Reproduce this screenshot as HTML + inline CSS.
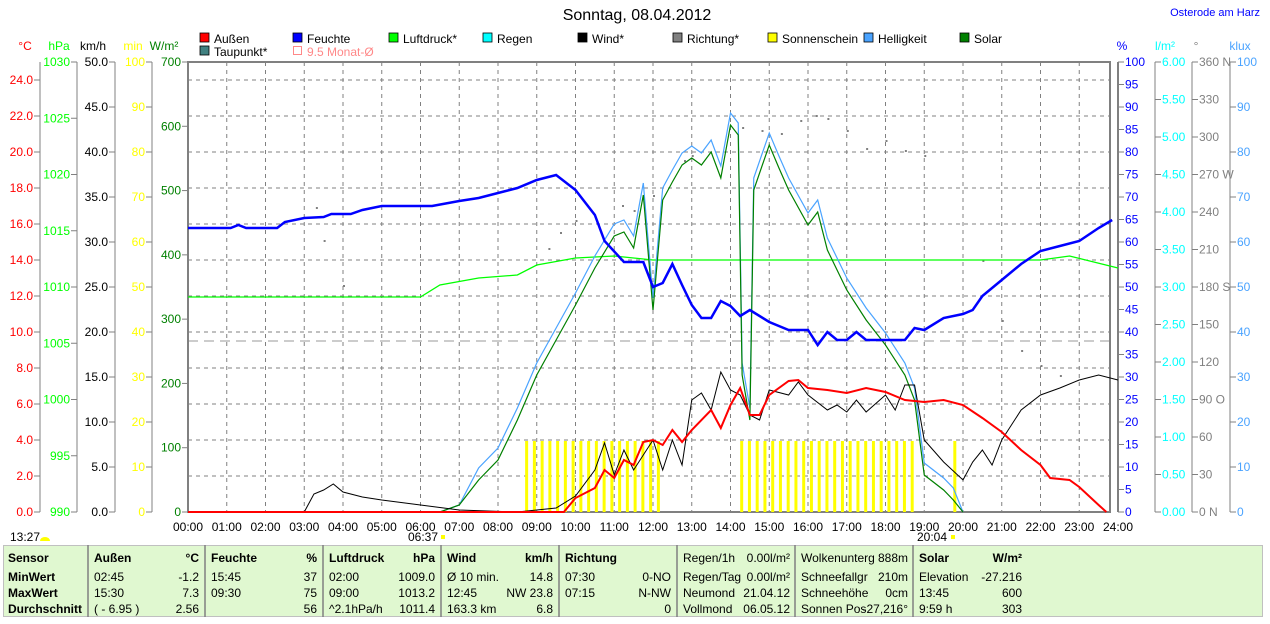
<!DOCTYPE html>
<html><head><meta charset="utf-8"><style>
body{margin:0;background:#fff;width:1270px;height:619px;overflow:hidden;font-family:"Liberation Sans",sans-serif}
svg text{font-family:"Liberation Sans",sans-serif;font-size:12px}
</style></head><body>
<svg id="s" width="1270" height="619" xmlns="http://www.w3.org/2000/svg"></svg>
<script>
const s=document.getElementById('s');let h='';
const X=t=>188+t*38.75;
function T(x,y,t,c,a,extra){h+=`<text x="${x}" y="${y}" fill="${c||'#000'}" text-anchor="${a||'start'}" ${extra||''}>${t}</text>`;}
function L(x1,y1,x2,y2,c,w,d){h+=`<line x1="${x1}" y1="${y1}" x2="${x2}" y2="${y2}" stroke="${c}" stroke-width="${w||1}" ${d?`stroke-dasharray="${d}"`:''}/>`;}
T(637,20,'Sonntag, 08.04.2012','#000','middle','style="font-size:16px"');
T(1260,16,'Osterode am Harz','#0000ff','end','style="font-size:11px"');
const lg=[[200,42,'#f00','Außen'],[293,42,'#00f','Feuchte'],[389,42,'#0f0','Luftdruck*'],[483,42,'#0ff','Regen'],[578,42,'#000','Wind*'],[673,42,'#808080','Richtung*'],[768,42,'#ff0','Sonnenschein'],[864,42,'#4aa3ff','Helligkeit'],[960,42,'#008000','Solar'],[200,55,'#408080','Taupunkt*']];
lg.forEach(l=>{h+=`<rect x="${l[0]}" y="${l[1]-9}" width="9" height="9" fill="${l[2]}" stroke="#000" stroke-width="0.8"/>`;T(l[0]+14,l[1]+1,l[3]);});
h+=`<rect x="293.5" y="46.5" width="8" height="8" fill="none" stroke="#f88"/>`;T(307,56,'9.5 Monat-Ø','#f88');
for(let k=1;k<24;k++)L(X(k),62,X(k),512,'#808080',1,'4,4');
for(let k=1;k<13;k++)L(188,512-36*k,1110,512-36*k,'#808080',1,'4,4');
L(188,341,1110,341,'#999',1,'10,6');
h+=`<rect x="188" y="62" width="922" height="450" fill="none" stroke="#808080" stroke-width="2"/>`;
L(1118,62,1118,512,'#808080',2);
function axis(lx,vals,ys,col,lab,labx){L(lx,62,lx,512,'#808080');vals.forEach((v,i)=>{L(lx-6,ys[i],lx,ys[i],'#808080');T(lx-7,ys[i]+4,v,col,'end');});T(labx,50,lab,col,'middle');}
let v=[],y=[];for(let k=0;k<=12;k++){v.push((2*k).toFixed(1));y.push(512-36*k);}
axis(40,v,y,'#f00','°C',25);
v=[];y=[];for(let k=0;k<=8;k++){v.push(990+5*k);y.push(512-56.25*k);}axis(77,v,y,'#0f0','hPa',59);
v=[];y=[];for(let k=0;k<=10;k++){v.push((5*k).toFixed(1));y.push(512-45*k);}axis(115,v,y,'#000','km/h',93);
v=[];y=[];for(let k=0;k<=10;k++){v.push(10*k);y.push(512-45*k);}axis(152,v,y,'#ff0','min',133);
v=[];y=[];for(let k=0;k<=7;k++){v.push(100*k);y.push(512-450/7*k);}axis(188,v,y,'#008000','W/m²',164);
function raxis(lx,vals,ys,col,lab,labx){L(lx,62,lx,512,'#808080');vals.forEach((v,i)=>{L(lx,ys[i],lx+6,ys[i],'#808080');T(lx+7,ys[i]+4,v,col);});T(labx,50,lab,col,'middle');}
v=[];y=[];for(let k=0;k<=20;k++){v.push(5*k);y.push(512-22.5*k);}raxis(1118,v,y,'#0000ff','%',1122);
v=[];y=[];for(let k=0;k<=12;k++){v.push((0.5*k).toFixed(2));y.push(512-37.5*k);}raxis(1155,v,y,'#0ff','l/m²',1165);
const dn={0:' N',3:' O',6:' S',9:' W',12:' N'};
v=[];y=[];for(let k=0;k<=12;k++){v.push(30*k+(dn[k]||''));y.push(512-37.5*k);}raxis(1192,v,y,'#808080','°',1196);
v=[];y=[];for(let k=0;k<=10;k++){v.push(10*k);y.push(512-45*k);}raxis(1230,v,y,'#4aa3ff','klux',1240);
for(let k=0;k<=24;k++)T(X(k),531,(k<10?'0':'')+k+':00','#000','middle');
T(438,541,'06:37','#000','end');h+=`<rect x="441" y="535" width="4" height="4" fill="#ff0"/>`;
T(932,541,'20:04','#000','middle');h+=`<rect x="951" y="535" width="4" height="4" fill="#ff0"/>`;
T(10,541,'13:27');h+=`<path d="M40 541 a5 4 0 0 1 10 0z" fill="#ff0"/>`;
for(let t=8.7;t<12.2;t+=0.2)h+=`<rect x="${X(t)}" y="441" width="3" height="71" fill="#ff0"/>`;
for(let t=14.25;t<18.8;t+=0.2)h+=`<rect x="${X(t)}" y="441" width="3" height="71" fill="#ff0"/>`;
h+=`<rect x="${X(19.75)}" y="441" width="3" height="71" fill="#ff0"/>`;
function P(pts,c,w){h+=`<polyline fill="none" stroke="${c}" stroke-width="${w}" points="${pts.map(p=>X(p[0])+','+p[1]).join(' ')}"/>`;}
[[3.3,207],[3.5,240],[4,285],[9.3,248],[9.6,232],[10,220],[11.2,205],[11.5,210],[12,195],[12.8,160],[13,155],[14.3,127],[14.8,130],[15.3,133],[15.8,120],[16.2,115],[16.5,118],[17,130],[17.5,148],[18,140],[18.5,150],[19,155],[20.5,260],[21,320],[21.5,350],[22,365],[22.5,375]].forEach(p=>h+=`<rect x="${X(p[0])}" y="${p[1]}" width="2" height="2" fill="#808080"/>`);
P([[0,297],[6,297],[6.5,285],[7.5,278],[8.5,275],[9,265],[10,258],[11,256],[12,260],[22,260],[22.75,256],[24,268]],'#0f0',1.3);
const sol=[[6.5,512],[7,505],[7.5,480],[8,460],[8.5,420],[9,375],[9.5,340],[10,305],[10.5,268],[11,236],[11.25,232],[11.5,248],[11.75,195],[12,310],[12.25,200],[12.5,182],[12.75,165],[13,158],[13.25,165],[13.5,152],[13.75,178],[14,125],[14.2,135],[14.3,375],[14.5,420],[14.6,190],[15,145],[15.25,168],[15.5,190],[16,225],[16.25,212],[16.5,250],[17,290],[17.5,320],[18,345],[18.5,375],[18.75,400],[19,475],[19.5,490],[19.75,500],[20,512]];
P(sol.map(p=>[p[0],p[1]>500?p[1]:p[1]-12]),'#4aa3ff',1.2);
P(sol,'#008000',1.2);
P([[0,512],[3,512],[3.25,494],[3.5,490],[3.75,484],[4,492],[4.5,497],[5,500],[6,505],[7,510],[8.5,512],[9.5,508],[10,496],[10.5,470],[10.75,443],[11,475],[11.25,450],[11.5,470],[12,440],[12.25,470],[12.5,440],[12.75,465],[13,400],[13.25,393],[13.5,410],[13.75,372],[14,390],[14.25,395],[14.5,415],[14.75,420],[15,390],[15.5,395],[15.75,382],[16,395],[16.5,410],[16.75,405],[17,412],[17.25,400],[17.5,412],[18,395],[18.25,410],[18.5,385],[18.75,385],[19,440],[19.5,462],[20,480],[20.25,462],[20.5,450],[20.75,465],[21,440],[21.5,410],[22,395],[22.5,388],[23,380],[23.5,375],[24,380]],'#000',1);
P([[0,512],[9.7,512],[10,498],[10.5,488],[10.75,470],[11,478],[11.25,460],[11.5,465],[11.75,442],[12,440],[12.25,445],[12.5,430],[12.75,442],[13,430],[13.5,410],[13.75,428],[14,405],[14.25,388],[14.5,415],[14.75,415],[15,395],[15.5,381],[15.75,380],[16,388],[16.5,390],[17,393],[17.5,388],[18,392],[18.5,400],[19,402],[19.5,400],[20,405],[20.5,418],[21,432],[21.5,450],[22,465],[22.25,478],[22.75,480],[23,487],[23.5,505],[23.7,512]],'#f00',2);
P([[0,228],[1.1,228],[1.3,225],[1.5,228],[2.3,228],[2.5,222],[3,218],[3.5,217],[3.7,214],[4.2,214],[4.5,210],[5,206],[6.3,206],[7,201],[7.5,198],[8,193],[8.5,188],[9,180],[9.5,175],[10,190],[10.5,215],[10.75,241],[11.25,262],[11.75,262],[12,287],[12.25,283],[12.5,264],[12.75,285],[13,305],[13.25,318],[13.5,318],[13.75,301],[14,306],[14.25,316],[14.5,310],[15,322],[15.5,330],[16,330],[16.25,345],[16.5,332],[16.75,340],[17,340],[17.25,332],[17.5,340],[18.5,340],[18.75,328],[19,330],[19.5,318],[20,314],[20.25,310],[20.5,296],[21,280],[21.5,264],[22,251],[22.5,246],[23,241],[23.5,228],[23.85,220]],'#0000ff',2.5);
h+=`<rect x="3.5" y="545.5" width="1259" height="71" fill="#e0f8d0" stroke="#c0c0c0"/>`;
[88,205,323,441,559,677,795,913].forEach(x=>L(x,545,x,617,'#808080',1.5));
const R=[558,577,593,609];
function C(x,rows,a,b){rows.forEach((t,i)=>{if(t)T(x,R[i]+4,t,'#000',a||'start',(b&&i==0)||b==2?'font-weight="bold"':'');});}
C(8,['Sensor','MinWert','MaxWert','Durchschnitt'],'start',2);
C(94,['Außen','02:45','15:30','( - 6.95 )'],'start',1);C(199,['°C','-1.2','7.3','2.56'],'end',1);
C(211,['Feuchte','15:45','09:30',''],'start',1);C(317,['%','37','75','56'],'end',1);
C(329,['Luftdruck','02:00','09:00','^2.1hPa/h'],'start',1);C(435,['hPa','1009.0','1013.2','1011.4'],'end',1);
C(447,['Wind','Ø 10 min.','12:45','163.3 km'],'start',1);C(553,['km/h','14.8','NW 23.8','6.8'],'end',1);
C(565,['Richtung','07:30','07:15',''],'start',1);C(671,['','0-NO','N-NW','0'],'end');
C(683,['Regen/1h','Regen/Tag','Neumond','Vollmond']);C(790,['0.00l/m²','0.00l/m²','21.04.12','06.05.12'],'end');
C(801,['Wolkenunterg','Schneefallgr','Schneehöhe','Sonnen Pos']);C(908,['888m','210m','0cm','-27,216°'],'end');
C(919,['Solar','Elevation','13:45','9:59 h'],'start',1);C(1022,['W/m²','-27.216','600','303'],'end',1);
s.innerHTML=h;
</script>
</body></html>
